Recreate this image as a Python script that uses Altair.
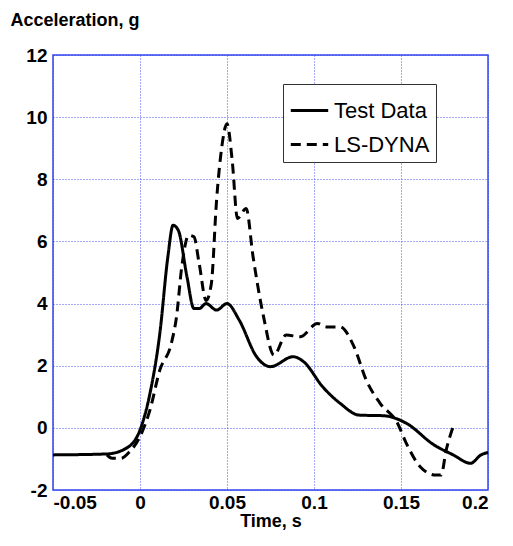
import altair as alt
import pandas as pd

# Test data curve
test_t = [-0.05, -0.019, -0.008, 0.0, 0.0057, 0.0114, 0.016, 0.019, 0.022, 0.027, 0.031, 0.034,
          0.038, 0.044, 0.05, 0.057, 0.067, 0.075, 0.088, 0.094, 0.105, 0.115, 0.126, 0.14,
          0.153, 0.169, 0.18, 0.19, 0.196, 0.2]
test_a = [-0.87, -0.84, -0.66, -0.07, 1.1, 3.04, 5.5, 6.52, 6.36, 4.86, 3.84, 3.84,
          4.0, 3.79, 4.0, 3.47, 2.29, 1.97, 2.29, 2.13, 1.32, 0.79, 0.41, 0.39,
          0.15, -0.55, -0.87, -1.14, -0.87, -0.79]

# LS-DYNA curve
dyna_t = [-0.019, -0.016, -0.011, -0.006, 0.0, 0.0057, 0.0114, 0.018, 0.021, 0.024, 0.028, 0.031,
          0.034, 0.038, 0.041, 0.044, 0.047, 0.05, 0.053, 0.056, 0.061, 0.065, 0.071, 0.077,
          0.084, 0.092, 0.102, 0.107, 0.115, 0.123, 0.13, 0.138, 0.148, 0.153, 0.161, 0.17,
          0.173, 0.176, 0.18]
dyna_a = [-0.87, -0.98, -0.98, -0.77, -0.28, 0.57, 1.86, 2.72, 3.58, 5.18, 6.2, 6.15,
          5.29, 4.1, 4.64, 7.32, 9.04, 9.79, 8.6, 6.74, 7.06, 5.5, 3.58, 2.34,
          2.99, 2.93, 3.36, 3.25, 3.25, 2.61, 1.54, 0.79, 0.15, -0.49, -1.25, -1.52,
          -1.52, -0.71, 0.04]

df = pd.concat([
    pd.DataFrame({"t": test_t, "a": test_a, "series": "Test Data", "o": range(len(test_t))}),
    pd.DataFrame({"t": dyna_t, "a": dyna_a, "series": "LS-DYNA", "o": range(len(dyna_t))}),
])

font = "Liberation Sans"
grid_blue = "#3344ee"
plain = "replace(format(datum.value, '~g'), '\u2212', '-')"

chart = (
    alt.Chart(df)
    .mark_line(color="black", strokeWidth=3, interpolate="monotone")
    .encode(
        x=alt.X("t:Q", scale=alt.Scale(domain=[-0.05, 0.2], nice=False),
                axis=alt.Axis(values=[-0.05, 0, 0.05, 0.1, 0.15, 0.2], title="Time, s",
                              titlePadding=0, labelPadding=3, labelExpr=plain)),
        y=alt.Y("a:Q", scale=alt.Scale(domain=[-2, 12], nice=False),
                axis=alt.Axis(values=list(range(-2, 13, 2)), title="Acceleration, g",
                              titleAngle=0, titleAlign="left", titleBaseline="alphabetic",
                              titleX=-43, titleY=-30, labelPadding=6, labelExpr=plain)),
        strokeDash=alt.StrokeDash(
            "series:N",
            scale=alt.Scale(domain=["Test Data", "LS-DYNA"], range=[[1, 0], [10, 6]]),
            legend=alt.Legend(
                title=None, orient="none", legendX=230, legendY=29,
                symbolType="stroke", symbolSize=1400, symbolStrokeWidth=3,
                symbolStrokeColor="black", labelFontSize=22, labelFont=font,
                labelColor="black", strokeColor="#333", fillColor="white",
                padding=6, rowPadding=2, labelOffset=4,
            ),
        ),
        order="o:Q",
    )
    .properties(
        width=435, height=435,
        autosize=alt.AutoSizeParams(type="none"),
        padding={"left": 45, "top": 47, "right": 17, "bottom": 40},
    )
    .configure_view(stroke=grid_blue, strokeWidth=1.5)
    .configure_axis(
        domain=False, ticks=False,
        grid=True, gridColor=grid_blue, gridDash=[1, 2], gridWidth=1, gridOpacity=0.9,
        labelFont=font, labelFontSize=19, labelFontWeight="bold", labelColor="black",
        titleFont=font, titleFontSize=18, titleFontWeight="bold", titleColor="black",
    )
)

chart.save("out.html", embed_options={"renderer": "svg", "actions": False})
